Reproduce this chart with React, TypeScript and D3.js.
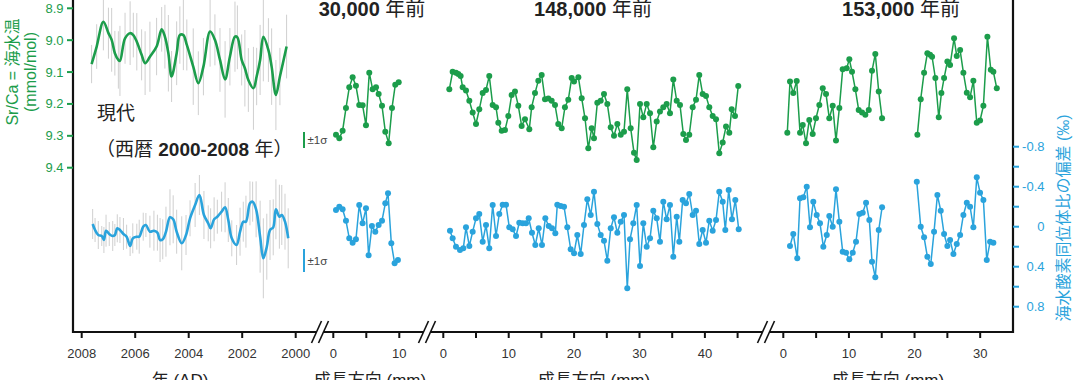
import React from 'react';
import * as d3 from 'd3';

// ---------- DATA ----------
// Modern coral (AD 2000-2008): Sr/Ca (smoothed) with ±error, and δ18O anomaly
const modernYearsSr = [2007.63, 2007.44, 2007.19, 2007.0, 2006.88, 2006.76, 2006.63, 2006.57, 2006.38, 2006.19, 2006.07, 2005.94, 2005.76, 2005.63, 2005.45, 2005.2, 2005.01, 2004.89, 2004.76, 2004.64, 2004.45, 2004.33, 2004.2, 2004.07, 2003.83, 2003.64, 2003.45, 2003.2, 2003.02, 2002.83, 2002.64, 2002.46, 2002.27, 2002.18, 2002.02, 2001.9, 2001.77, 2001.58, 2001.46, 2001.33, 2001.21, 2001.02, 2000.9, 2000.74, 2000.59, 2000.34];
const modernSrCa = [9.075, 9.02, 8.942, 8.978, 8.999, 9.041, 9.062, 9.065, 8.994, 8.978, 8.984, 9.005, 9.046, 9.072, 9.052, 9.02, 8.966, 8.989, 9.041, 9.114, 9.041, 8.984, 8.984, 9.015, 9.083, 9.135, 9.083, 8.973, 8.999, 9.062, 9.123, 9.052, 8.989, 8.991, 9.062, 9.088, 9.125, 9.151, 9.114, 9.062, 8.989, 9.031, 9.083, 9.172, 9.114, 9.02];
const modernSrErr = [0.06, 0.07, 0.09, 0.08, 0.1, 0.07, 0.09, 0.11, 0.08, 0.1, 0.07, 0.09, 0.08, 0.1, 0.11, 0.09, 0.07, 0.1, 0.12, 0.08, 0.1, 0.09, 0.11, 0.08, 0.12, 0.1, 0.09, 0.11, 0.08, 0.1, 0.12, 0.09, 0.11, 0.1, 0.08, 0.12, 0.1, 0.13, 0.09, 0.11, 0.14, 0.1, 0.12, 0.11, 0.09, 0.1];

const modernYearsD = [2007.59, 2007.5, 2007.38, 2007.25, 2007.17, 2007.09, 2006.97, 2006.84, 2006.76, 2006.67, 2006.57, 2006.44, 2006.32, 2006.19, 2006.09, 2005.94, 2005.85, 2005.7, 2005.6, 2005.45, 2005.3, 2005.17, 2005.07, 2004.97, 2004.85, 2004.7, 2004.58, 2004.45, 2004.26, 2004.1, 2003.95, 2003.76, 2003.6, 2003.43, 2003.27, 2003.18, 2003.05, 2002.93, 2002.77, 2002.64, 2002.52, 2002.39, 2002.21, 2002.08, 2001.96, 2001.86, 2001.71, 2001.61, 2001.48, 2001.33, 2001.21, 2001.08, 2000.96, 2000.84, 2000.74, 2000.61, 2000.52, 2000.4, 2000.28];
const modernD18O = [-0.027, 0.033, 0.083, 0.093, 0.133, 0.04, 0.073, 0.093, 0.083, 0.016, 0.033, 0.073, 0.1, 0.193, 0.116, 0.1, 0.1, 0, -0.017, 0.05, 0.04, 0.06, 0.133, 0.126, 0.05, -0.094, -0.074, 0.05, 0.166, 0.083, -0.084, -0.217, -0.317, -0.117, -0.034, 0.016, -0.074, -0.1, -0.15, -0.194, -0.067, 0.116, 0.183, 0.05, -0.05, -0.05, -0.234, -0.25, -0.174, 0.1, 0.316, 0.2, 0.033, 0.006, -0.174, -0.1, -0.117, -0.05, 0.116];
const modernDErr = [0.15, 0.12, 0.14, 0.1, 0.13, 0.16, 0.12, 0.15, 0.11, 0.14, 0.13, 0.16, 0.12, 0.1, 0.15, 0.13, 0.17, 0.14, 0.12, 0.16, 0.2, 0.18, 0.22, 0.2, 0.25, 0.28, 0.24, 0.22, 0.27, 0.2, 0.18, 0.22, 0.2, 0.24, 0.18, 0.2, 0.22, 0.17, 0.2, 0.25, 0.22, 0.18, 0.2, 0.24, 0.2, 0.26, 0.22, 0.2, 0.28, 0.36, 0.4, 0.33, 0.3, 0.28, 0.3, 0.32, 0.3, 0.28, 0.3];

// 30,000 years ago
const mm30Sr = [0.41, 0.91, 1.41, 1.92, 2.42, 2.93, 3.43, 3.93, 4.44, 4.95, 5.45, 5.96, 6.47, 6.87, 7.38, 7.88, 8.39, 8.89, 9.39, 9.91];
const sr30 = [9.297, 9.308, 9.284, 9.213, 9.148, 9.116, 9.143, 9.203, 9.204, 9.267, 9.102, 9.154, 9.148, 9.169, 9.206, 9.287, 9.323, 9.213, 9.14, 9.132];
const mm30D = [0.41, 0.91, 1.41, 1.92, 2.42, 2.93, 3.43, 3.93, 4.44, 4.95, 5.35, 5.85, 6.36, 6.87, 7.38, 7.88, 8.29, 8.79, 9.29, 9.79];
const d30 = [-0.167, -0.2, -0.174, -0.06, 0.116, 0.16, 0.126, -0.217, -0.034, -0.184, 0.286, -0.007, 0.05, -0.017, -0.06, -0.234, -0.334, 0.166, 0.366, 0.333];

// 148,000 years ago
const mm148Sr = [0.92, 1.43, 1.94, 2.3, 2.65, 2.96, 3.47, 3.98, 4.49, 5.0, 5.5, 6.02, 6.53, 7.03, 7.55, 8.06, 8.41, 8.93, 9.43, 9.94, 10.45, 10.96, 11.47, 11.98, 12.49, 13.15, 13.51, 14.02, 14.53, 15.04, 15.55, 16.06, 16.57, 17.08, 17.58, 18.1, 18.6, 19.11, 19.63, 19.99, 20.65, 21.16, 21.67, 22.17, 22.69, 23.04, 23.55, 24.07, 24.57, 25.08, 25.6, 26.1, 26.61, 27.13, 27.63, 28.13, 28.65, 29.16, 29.57, 30.08, 30.58, 31.1, 31.61, 32.11, 32.63, 33.13, 33.64, 34.15, 34.66, 35.17, 35.69, 36.19, 36.7, 37.11, 37.61, 38.13, 38.64, 39.14, 39.66, 40.17, 40.67, 41.19, 41.7, 42.2, 42.72, 43.23, 43.73, 44.1, 44.6, 45.1];
const sr148 = [9.154, 9.099, 9.102, 9.106, 9.112, 9.148, 9.158, 9.19, 9.227, 9.263, 9.217, 9.166, 9.156, 9.112, 9.203, 9.21, 9.259, 9.284, 9.282, 9.238, 9.172, 9.161, 9.206, 9.269, 9.248, 9.279, 9.21, 9.166, 9.127, 9.109, 9.185, 9.183, 9.19, 9.203, 9.263, 9.276, 9.21, 9.187, 9.119, 9.13, 9.116, 9.182, 9.245, 9.339, 9.276, 9.308, 9.196, 9.19, 9.169, 9.2, 9.273, 9.3, 9.263, 9.297, 9.287, 9.154, 9.276, 9.353, 9.376, 9.2, 9.242, 9.2, 9.229, 9.336, 9.255, 9.224, 9.21, 9.2, 9.229, 9.123, 9.19, 9.203, 9.294, 9.313, 9.297, 9.21, 9.187, 9.109, 9.169, 9.175, 9.21, 9.238, 9.248, 9.355, 9.321, 9.271, 9.29, 9.217, 9.238, 9.144];
const mm148D = [1.02, 1.43, 1.94, 2.55, 3.06, 3.47, 3.98, 4.49, 5.0, 5.5, 6.02, 6.53, 7.03, 7.55, 8.06, 8.56, 9.08, 9.59, 10.09, 10.61, 11.12, 11.62, 12.14, 12.65, 13.06, 13.56, 14.07, 14.59, 15.09, 15.6, 16.12, 16.62, 17.13, 17.43, 17.95, 18.46, 18.96, 19.48, 19.99, 20.49, 21.01, 21.51, 22.02, 22.54, 23.04, 23.55, 24.07, 24.57, 25.08, 25.6, 26.1, 26.61, 27.13, 27.63, 28.13, 28.55, 29.05, 29.57, 30.08, 30.58, 31.1, 31.61, 32.11, 32.63, 33.13, 33.64, 34.15, 34.66, 35.17, 35.69, 36.09, 36.6, 37.11, 37.61, 38.13, 38.64, 39.14, 39.66, 40.17, 40.67, 41.19, 41.7, 42.2, 42.72, 43.12, 43.64, 44.14, 44.65, 45.17];
const d148 = [0.04, 0.116, 0.2, 0.233, 0.216, 0.006, 0.193, 0.05, -0.084, -0.127, 0.15, -0.017, 0.216, -0.217, 0.093, -0.127, -0.22, -0.22, 0.006, 0.026, 0.093, -0.04, -0.034, -0.034, -0.084, 0.06, 0.183, 0.016, 0.183, -0.084, -0.007, 0.016, 0.066, -0.22, -0.207, -0.2, 0.006, 0.226, 0.266, 0.083, 0.273, -0.017, -0.274, -0.117, -0.35, -0.027, 0.083, 0.14, 0.34, 0.016, -0.094, 0.06, -0.05, -0.117, 0.616, 0.126, -0.034, -0.217, 0.393, -0.034, 0.2, 0.116, -0.16, -0.084, 0.15, -0.25, -0.074, -0.217, 0.3, -0.1, 0.15, -0.267, -0.234, -0.327, -0.117, -0.16, 0.173, 0.033, 0.16, -0.06, 0.04, -0.067, -0.35, -0.25, 0.033, -0.367, -0.074, -0.267, 0.026];

// 153,000 years ago (two separate core sections)
const mm153SrA = [0.61, 1.02, 1.52, 2.04, 2.55, 2.96, 3.46, 3.96, 4.48, 4.98, 5.49, 6.01, 6.51, 7.01, 7.53, 8.03, 8.54, 9.05, 9.66, 10.06, 10.47, 10.98, 11.49, 12.0, 12.5, 13.02, 13.52, 14.02, 14.54, 15.05];
const sr153A = [9.29, 9.13, 9.166, 9.128, 9.29, 9.266, 9.323, 9.25, 9.294, 9.245, 9.203, 9.151, 9.169, 9.245, 9.206, 9.315, 9.213, 9.091, 9.088, 9.06, 9.099, 9.154, 9.219, 9.227, 9.234, 9.219, 9.096, 9.043, 9.161, 9.245];
const mm153SrB = [20.43, 20.94, 21.45, 21.95, 22.36, 22.67, 23.17, 23.69, 24.09, 24.5, 25.0, 25.41, 26.02, 26.43, 26.94, 27.44, 27.96, 28.46, 28.96, 29.48, 29.98, 30.49, 31.1, 31.62, 32.01, 32.53];
const sr153B = [9.297, 9.185, 9.102, 9.041, 9.046, 9.052, 9.119, 9.242, 9.166, 9.119, 9.067, 9.078, 8.994, 9.05, 9.031, 9.102, 9.165, 9.179, 9.127, 9.259, 9.252, 9.206, 8.989, 9.093, 9.099, 9.151];
const mm153DA = [1.02, 1.52, 2.13, 2.55, 3.05, 3.57, 4.07, 4.57, 5.09, 5.59, 6.1, 6.62, 7.01, 7.53, 8.03, 8.54, 9.05, 9.56, 10.06, 10.58, 11.08, 11.59, 12.1, 12.61, 13.11, 13.52, 14.02, 14.54, 15.05];
const d153A = [0.193, 0.073, 0.316, -0.284, -0.294, -0.4, 0.006, -0.25, -0.117, -0.034, 0.2, 0.083, -0.107, 0, -0.374, -0.05, 0.25, 0.26, 0.326, 0.26, 0.15, -0.127, -0.14, -0.24, -0.067, 0.35, 0.506, 0.033, -0.194];
const mm153DB = [20.34, 20.94, 21.45, 21.95, 22.47, 22.97, 23.48, 23.99, 24.5, 25.0, 25.41, 25.92, 26.43, 26.94, 27.44, 27.96, 28.46, 28.96, 29.48, 29.98, 30.49, 31.0, 31.51, 32.01];
const d153B = [-0.45, 0, 0.106, 0.3, 0.373, 0.05, -0.317, -0.16, 0.073, 0.193, 0.133, 0.273, 0.173, 0.083, -0.117, -0.24, -0.2, 0.006, -0.494, -0.34, -0.267, 0.333, 0.15, 0.16];

// axis ticks / labels
const srTicks = [8.9, 9.0, 9.1, 9.2, 9.3, 9.4];
const dTicks = [-0.8, -0.6, -0.4, -0.2, 0, 0.2, 0.4, 0.6, 0.8];
const dTickLabels = [-0.8, -0.4, 0, 0.4, 0.8];
const yearTicks = [2008, 2006, 2004, 2002, 2000];
const ticks30 = [0, 5, 10];
const labels30 = [0, 10];
const ticks148 = [0, 5, 10, 15, 20, 25, 30, 35, 40, 45];
const labels148 = [0, 10, 20, 30, 40];
const ticks153 = [0, 5, 10, 15, 20, 25, 30];
const labels153 = [0, 10, 20, 30];
const titles = ['30,000', '148,000', '153,000'];
const sigmaSr = 0.025; // ±1σ Sr/Ca
const sigmaD = 0.115; // ±1σ δ18O

const GREEN = '#1c9d4b';
const BLUE = '#2aa3dc';
const FONT = "'Liberation Sans', Arial, 'Noto Sans CJK JP', sans-serif";

export default function App() {
  const xMod = d3.scaleLinear().domain([2008, 2000]).range([81.7, 295.7]);
  const x30 = d3.scaleLinear().domain([0, 10]).range([333.3, 399.3]);
  const x148 = d3.scaleLinear().domain([0, 45]).range([443.3, 737.6]);
  const x153 = d3.scaleLinear().domain([0, 35]).range([783.3, 1013]);
  const ySr = d3.scaleLinear().domain([8.9, 9.4]).range([8.3, 167.7]);
  const yD = d3.scaleLinear().domain([-0.8, 0.8]).range([146.7, 306.7]);

  const axisX0 = 73, axisX1 = 1013, axisY = 332;

  const smooth = (xs: number[], ys: number[], xs_: any, ys_: any) =>
    d3.line<number>().x((_, i) => xs_(xs[i])).y((v) => ys_(v)).curve(d3.curveCatmullRom.alpha(0.5))(ys) || '';
  const straight = (xs: number[], ys: number[], xs_: any, ys_: any) =>
    d3.line<number>().x((_, i) => xs_(xs[i])).y((v) => ys_(v))(ys) || '';

  const fossil = (xs: number[], ys: number[], xs_: any, ys_: any, color: string, key: string) => (
    <g key={key}>
      <path d={straight(xs, ys, xs_, ys_)} fill="none" stroke={color} strokeWidth={1.5} />
      {ys.map((v, i) => (
        <circle key={i} cx={xs_(xs[i])} cy={ys_(v)} r={3} fill={color} />
      ))}
    </g>
  );

  const breaks = [320, 427, 766];
  // axis line segments with gaps at the breaks
  const segs: [number, number][] = [];
  let start = axisX0 - 1;
  breaks.forEach((b) => {
    segs.push([start, b - 3.5]);
    start = b + 3.5;
  });
  segs.push([start, axisX1 + 1]);

  const tickDown = (x: number, k: string) => (
    <line key={k} x1={x} x2={x} y1={axisY} y2={axisY + 6} stroke="#111" strokeWidth={2} />
  );
  const tickLabel = (x: number, t: string, k: string) => (
    <text key={k} x={x} y={358} textAnchor="middle" fontSize={13} fill="#333">{t}</text>
  );

  const titleXs = [372, 593, 901];

  return (
    <svg width={1080} height={380} style={{ position: 'absolute', left: 0, top: 0, background: '#fff' }} fontFamily={FONT}>
      <rect x={0} y={0} width={1080} height={380} fill="#fff" />

      {/* modern error bars */}
      {modernSrCa.map((v, i) => (
        <line key={'se' + i} x1={xMod(modernYearsSr[i])} x2={xMod(modernYearsSr[i])}
          y1={ySr(v - modernSrErr[i])} y2={ySr(v + modernSrErr[i])} stroke="#cfcfcf" strokeWidth={1} />
      ))}
      {modernD18O.map((v, i) => (
        <line key={'de' + i} x1={xMod(modernYearsD[i])} x2={xMod(modernYearsD[i])}
          y1={yD(v - modernDErr[i])} y2={yD(v + modernDErr[i])} stroke="#cfcfcf" strokeWidth={1} />
      ))}
      <path d={smooth(modernYearsSr, modernSrCa, xMod, ySr)} fill="none" stroke={GREEN} strokeWidth={2.6} strokeLinejoin="round" />
      <path d={smooth(modernYearsD, modernD18O, xMod, yD)} fill="none" stroke={BLUE} strokeWidth={2.6} strokeLinejoin="round" />

      {/* fossil series */}
      {fossil(mm30Sr, sr30, x30, ySr, GREEN, 'g30')}
      {fossil(mm30D, d30, x30, yD, BLUE, 'b30')}
      {fossil(mm148Sr, sr148, x148, ySr, GREEN, 'g148')}
      {fossil(mm148D, d148, x148, yD, BLUE, 'b148')}
      {fossil(mm153SrA, sr153A, x153, ySr, GREEN, 'g153a')}
      {fossil(mm153SrB, sr153B, x153, ySr, GREEN, 'g153b')}
      {fossil(mm153DA, d153A, x153, yD, BLUE, 'b153a')}
      {fossil(mm153DB, d153B, x153, yD, BLUE, 'b153b')}

      {/* ±1σ markers */}
      <line x1={304} x2={304} y1={ySr(9.313 - sigmaSr)} y2={ySr(9.313 + sigmaSr)} stroke={GREEN} strokeWidth={2} />
      <text x={307.5} y={ySr(9.313) + 4} fontSize={11.5} fill="#444">±1σ</text>
      <line x1={304} x2={304} y1={yD(0.338 - sigmaD)} y2={yD(0.338 + sigmaD)} stroke={BLUE} strokeWidth={2} />
      <text x={307.5} y={yD(0.338) + 4} fontSize={11.5} fill="#444">±1σ</text>

      {/* axes */}
      <line x1={axisX0} x2={axisX0} y1={0} y2={axisY + 1} stroke="#111" strokeWidth={2.2} />
      <line x1={axisX1} x2={axisX1} y1={0} y2={axisY + 1} stroke="#111" strokeWidth={2.2} />
      {segs.map(([a, b], i) => (
        <line key={'ax' + i} x1={a} x2={b} y1={axisY} y2={axisY} stroke="#111" strokeWidth={2.2} />
      ))}
      {breaks.map((b, i) => (
        <g key={'br' + i}>
          <line x1={b - 3.5 - 5} y1={axisY + 11} x2={b - 3.5 + 5} y2={axisY - 11} stroke="#111" strokeWidth={1.6} />
          <line x1={b + 3.5 - 5} y1={axisY + 11} x2={b + 3.5 + 5} y2={axisY - 11} stroke="#111" strokeWidth={1.6} />
        </g>
      ))}

      {/* left axis ticks */}
      {srTicks.map((t) => (
        <g key={'st' + t}>
          <line x1={67} x2={axisX0} y1={ySr(t)} y2={ySr(t)} stroke={GREEN} strokeWidth={2} />
          <text x={63.5} y={ySr(t) + 4.5} textAnchor="end" fontSize={13} fill={GREEN}>{t.toFixed(1)}</text>
        </g>
      ))}
      {/* right axis ticks */}
      {dTicks.map((t) => (
        <line key={'dt' + t} x1={axisX1} x2={axisX1 + 6} y1={yD(t)} y2={yD(t)} stroke={BLUE} strokeWidth={2} />
      ))}
      {dTickLabels.map((t) => (
        <text key={'dl' + t} x={1044.5} y={yD(t) + 4.5} textAnchor="end" fontSize={13} fill={BLUE}>{t === 0 ? '0' : t.toFixed(1)}</text>
      ))}

      {/* bottom ticks */}
      {yearTicks.map((t) => tickDown(xMod(t), 'yt' + t))}
      {yearTicks.map((t) => tickLabel(xMod(t), String(t), 'yl' + t))}
      {ticks30.map((t) => tickDown(x30(t), 't30' + t))}
      {labels30.map((t) => tickLabel(x30(t), String(t), 'l30' + t))}
      {ticks148.map((t) => tickDown(x148(t), 't148' + t))}
      {labels148.map((t) => tickLabel(x148(t), String(t), 'l148' + t))}
      {ticks153.map((t) => tickDown(x153(t), 't153' + t))}
      {labels153.map((t) => tickLabel(x153(t), String(t), 'l153' + t))}

      {/* axis titles */}
      <text x={180} y={386} textAnchor="middle" fontSize={17} fill="#222">年 (AD)</text>
      <text x={370} y={386} textAnchor="middle" fontSize={17} fill="#222">成長方向 (mm)</text>
      <text x={594} y={386} textAnchor="middle" fontSize={17} fill="#222">成長方向 (mm)</text>
      <text x={888} y={386} textAnchor="middle" fontSize={17} fill="#222">成長方向 (mm)</text>

      <text transform="translate(12.5,72) rotate(-90)" textAnchor="middle" dominantBaseline="central" fontSize={16} fill={GREEN}>Sr/Ca = 海水温</text>
      <text transform="translate(30,72) rotate(-90)" textAnchor="middle" dominantBaseline="central" fontSize={16} fill={GREEN}>(mmol/mol)</text>
      <text transform="translate(1063,218) rotate(-90)" textAnchor="middle" dominantBaseline="central" fontSize={16} fill={BLUE}>海水酸素同位体比の偏差 (‰)</text>

      {/* panel titles */}
      {titles.map((t, i) => (
        <text key={'ti' + i} x={titleXs[i]} y={16} textAnchor="middle" fontSize={20} fill="#222">
          <tspan fontWeight="bold">{t}</tspan>{' 年前'}
        </text>
      ))}

      <text x={97} y={120} fontSize={19} fill="#222">現代</text>
      <text x={96} y={156} fontSize={19} fill="#222">
        （西暦 <tspan fontWeight="bold">2000-2008</tspan> 年）
      </text>
    </svg>
  );
}
